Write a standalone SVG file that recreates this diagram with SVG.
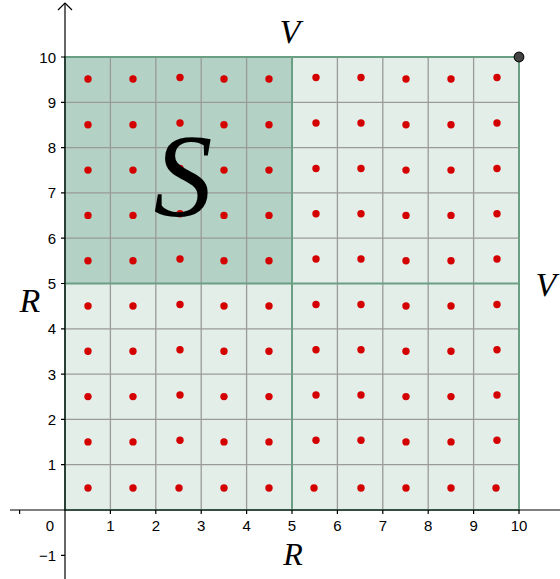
<svg xmlns="http://www.w3.org/2000/svg" width="560" height="579" viewBox="0 0 560 579">
<style>
.num{font-family:"Liberation Sans",Arial,sans-serif;font-size:15px;fill:#000}
.lab{font-family:"Liberation Serif","Times New Roman",serif;font-style:italic;fill:#000}
.grid{stroke:#9a9a9a;stroke-width:1.3;fill:none}
.bd{stroke:#6a9f84;stroke-width:2;fill:none}
.dot{fill:#d40000}
.ax{stroke:#000;stroke-width:1.2;fill:none}
</style>
<g id="regions">
<rect x="65" y="57" width="454" height="453" fill="#e4eee9"/>
<rect x="65" y="57" width="227" height="226.5" fill="#b3d1c4"/>
</g>
<g id="grid" class="grid">
<path d="M110.4 57V510M155.8 57V510M201.2 57V510M246.6 57V510M337.4 57V510M382.8 57V510M428.2 57V510M473.6 57V510"/>
<path d="M65 102.3H519M65 147.6H519M65 192.9H519M65 238.2H519M65 328.8H519M65 374.1H519M65 419.4H519M65 464.7H519"/>
</g>
<g id="borders" class="bd">
<rect x="65" y="57" width="454" height="453"/>
<path d="M292 57V510M65 283.5H519"/>
</g>
<g id="axes" class="ax">
<path d="M10 510H560"/>
<path d="M65 579V3"/>
<path d="M58 10L65 3L72 10"/>
<path d="M19.6 510V514M110.4 510V514M155.8 510V514M201.2 510V514M246.6 510V514M292 510V514M337.4 510V514M382.8 510V514M428.2 510V514M473.6 510V514M519 510V514"/>
<path d="M61 57H65M61 102.3H65M61 147.6H65M61 192.9H65M61 238.2H65M61 283.5H65M61 328.8H65M61 374.1H65M61 419.4H65M61 464.7H65M61 555.3H65"/>
</g>
<g id="ticklabels" class="num">
<g text-anchor="end">
<text x="56" y="62.5">10</text>
<text x="56" y="107.8">9</text>
<text x="56" y="153.1">8</text>
<text x="56" y="198.4">7</text>
<text x="56" y="243.7">6</text>
<text x="56" y="289">5</text>
<text x="56" y="334.3">4</text>
<text x="56" y="379.6">3</text>
<text x="56" y="424.9">2</text>
<text x="56" y="470.2">1</text>
<text x="56" y="560.8">−1</text>
</g>
<g text-anchor="middle">
<text x="50" y="531">0</text>
<text x="110.4" y="531">1</text>
<text x="155.8" y="531">2</text>
<text x="201.2" y="531">3</text>
<text x="246.6" y="531">4</text>
<text x="292" y="531">5</text>
<text x="337.4" y="531">6</text>
<text x="382.8" y="531">7</text>
<text x="428.2" y="531">8</text>
<text x="473.6" y="531">9</text>
<text x="519" y="531">10</text>
</g>
</g>
<g id="dots" class="dot">
<circle cx="88" cy="79" r="3.7"/><circle cx="133" cy="79" r="3.7"/><circle cx="180" cy="77.5" r="3.7"/><circle cx="224" cy="79" r="3.7"/><circle cx="269" cy="79" r="3.7"/><circle cx="316" cy="77.5" r="3.7"/><circle cx="361" cy="77.5" r="3.7"/><circle cx="406" cy="79" r="3.7"/><circle cx="451" cy="79" r="3.7"/><circle cx="497" cy="77.5" r="3.7"/>
<circle cx="88" cy="124.8" r="3.7"/><circle cx="133" cy="124.8" r="3.7"/><circle cx="180" cy="123" r="3.7"/><circle cx="224" cy="124.8" r="3.7"/><circle cx="269" cy="124.8" r="3.7"/><circle cx="316" cy="123" r="3.7"/><circle cx="361" cy="123" r="3.7"/><circle cx="406" cy="124.8" r="3.7"/><circle cx="451" cy="124.8" r="3.7"/><circle cx="497" cy="123" r="3.7"/>
<circle cx="88" cy="170.1" r="3.7"/><circle cx="133" cy="170.1" r="3.7"/><circle cx="180" cy="168.5" r="3.7"/><circle cx="224" cy="170.1" r="3.7"/><circle cx="269" cy="170.1" r="3.7"/><circle cx="316" cy="168.5" r="3.7"/><circle cx="361" cy="168.5" r="3.7"/><circle cx="406" cy="170.1" r="3.7"/><circle cx="451" cy="170.1" r="3.7"/><circle cx="497" cy="168.5" r="3.7"/>
<circle cx="88" cy="215.4" r="3.7"/><circle cx="133" cy="215.4" r="3.7"/><circle cx="180" cy="213.8" r="3.7"/><circle cx="224" cy="215.4" r="3.7"/><circle cx="269" cy="215.4" r="3.7"/><circle cx="316" cy="213.8" r="3.7"/><circle cx="361" cy="213.8" r="3.7"/><circle cx="406" cy="215.4" r="3.7"/><circle cx="451" cy="215.4" r="3.7"/><circle cx="497" cy="213.8" r="3.7"/>
<circle cx="88" cy="260.7" r="3.7"/><circle cx="133" cy="260.7" r="3.7"/><circle cx="180" cy="259" r="3.7"/><circle cx="224" cy="260.7" r="3.7"/><circle cx="269" cy="260.7" r="3.7"/><circle cx="316" cy="259" r="3.7"/><circle cx="361" cy="259" r="3.7"/><circle cx="406" cy="260.7" r="3.7"/><circle cx="451" cy="260.7" r="3.7"/><circle cx="497" cy="259" r="3.7"/>
<circle cx="88" cy="306" r="3.7"/><circle cx="133" cy="306" r="3.7"/><circle cx="180" cy="304.5" r="3.7"/><circle cx="224" cy="306" r="3.7"/><circle cx="269" cy="306" r="3.7"/><circle cx="316" cy="304.5" r="3.7"/><circle cx="361" cy="304.5" r="3.7"/><circle cx="406" cy="306" r="3.7"/><circle cx="451" cy="306" r="3.7"/><circle cx="497" cy="304.5" r="3.7"/>
<circle cx="88" cy="351.3" r="3.7"/><circle cx="133" cy="351.3" r="3.7"/><circle cx="180" cy="349.8" r="3.7"/><circle cx="224" cy="351.3" r="3.7"/><circle cx="269" cy="351.3" r="3.7"/><circle cx="316" cy="349.8" r="3.7"/><circle cx="361" cy="349.8" r="3.7"/><circle cx="406" cy="351.3" r="3.7"/><circle cx="451" cy="351.3" r="3.7"/><circle cx="497" cy="349.8" r="3.7"/>
<circle cx="88" cy="396.6" r="3.7"/><circle cx="133" cy="396.6" r="3.7"/><circle cx="180" cy="395" r="3.7"/><circle cx="224" cy="396.6" r="3.7"/><circle cx="269" cy="396.6" r="3.7"/><circle cx="316" cy="395" r="3.7"/><circle cx="361" cy="395" r="3.7"/><circle cx="406" cy="396.6" r="3.7"/><circle cx="451" cy="396.6" r="3.7"/><circle cx="497" cy="395" r="3.7"/>
<circle cx="88" cy="441.9" r="3.7"/><circle cx="133" cy="441.9" r="3.7"/><circle cx="180" cy="440.3" r="3.7"/><circle cx="224" cy="441.9" r="3.7"/><circle cx="269" cy="441.9" r="3.7"/><circle cx="316" cy="440.3" r="3.7"/><circle cx="361" cy="440.3" r="3.7"/><circle cx="406" cy="441.9" r="3.7"/><circle cx="451" cy="441.9" r="3.7"/><circle cx="497" cy="440.3" r="3.7"/>
<circle cx="88" cy="488" r="3.7"/><circle cx="133" cy="488" r="3.7"/><circle cx="179" cy="488" r="3.7"/><circle cx="224" cy="488" r="3.7"/><circle cx="269" cy="488" r="3.7"/><circle cx="314" cy="488" r="3.7"/><circle cx="361" cy="488" r="3.7"/><circle cx="406" cy="488" r="3.7"/><circle cx="451" cy="488" r="3.7"/><circle cx="496" cy="488" r="3.7"/>
</g>
<g id="corner-point">
<circle cx="519" cy="57" r="4.8" fill="#444" stroke="#111" stroke-width="1.2"/>
</g>
<g id="labels" class="lab">
<text x="290" y="43" font-size="34" text-anchor="middle">V</text>
<text x="546" y="296" font-size="34" text-anchor="middle">V</text>
<text x="30" y="312" font-size="34" text-anchor="middle">R</text>
<text x="293" y="565" font-size="32" text-anchor="middle">R</text>
<text x="183" y="216" font-size="118" text-anchor="middle">S</text>
</g>
</svg>
